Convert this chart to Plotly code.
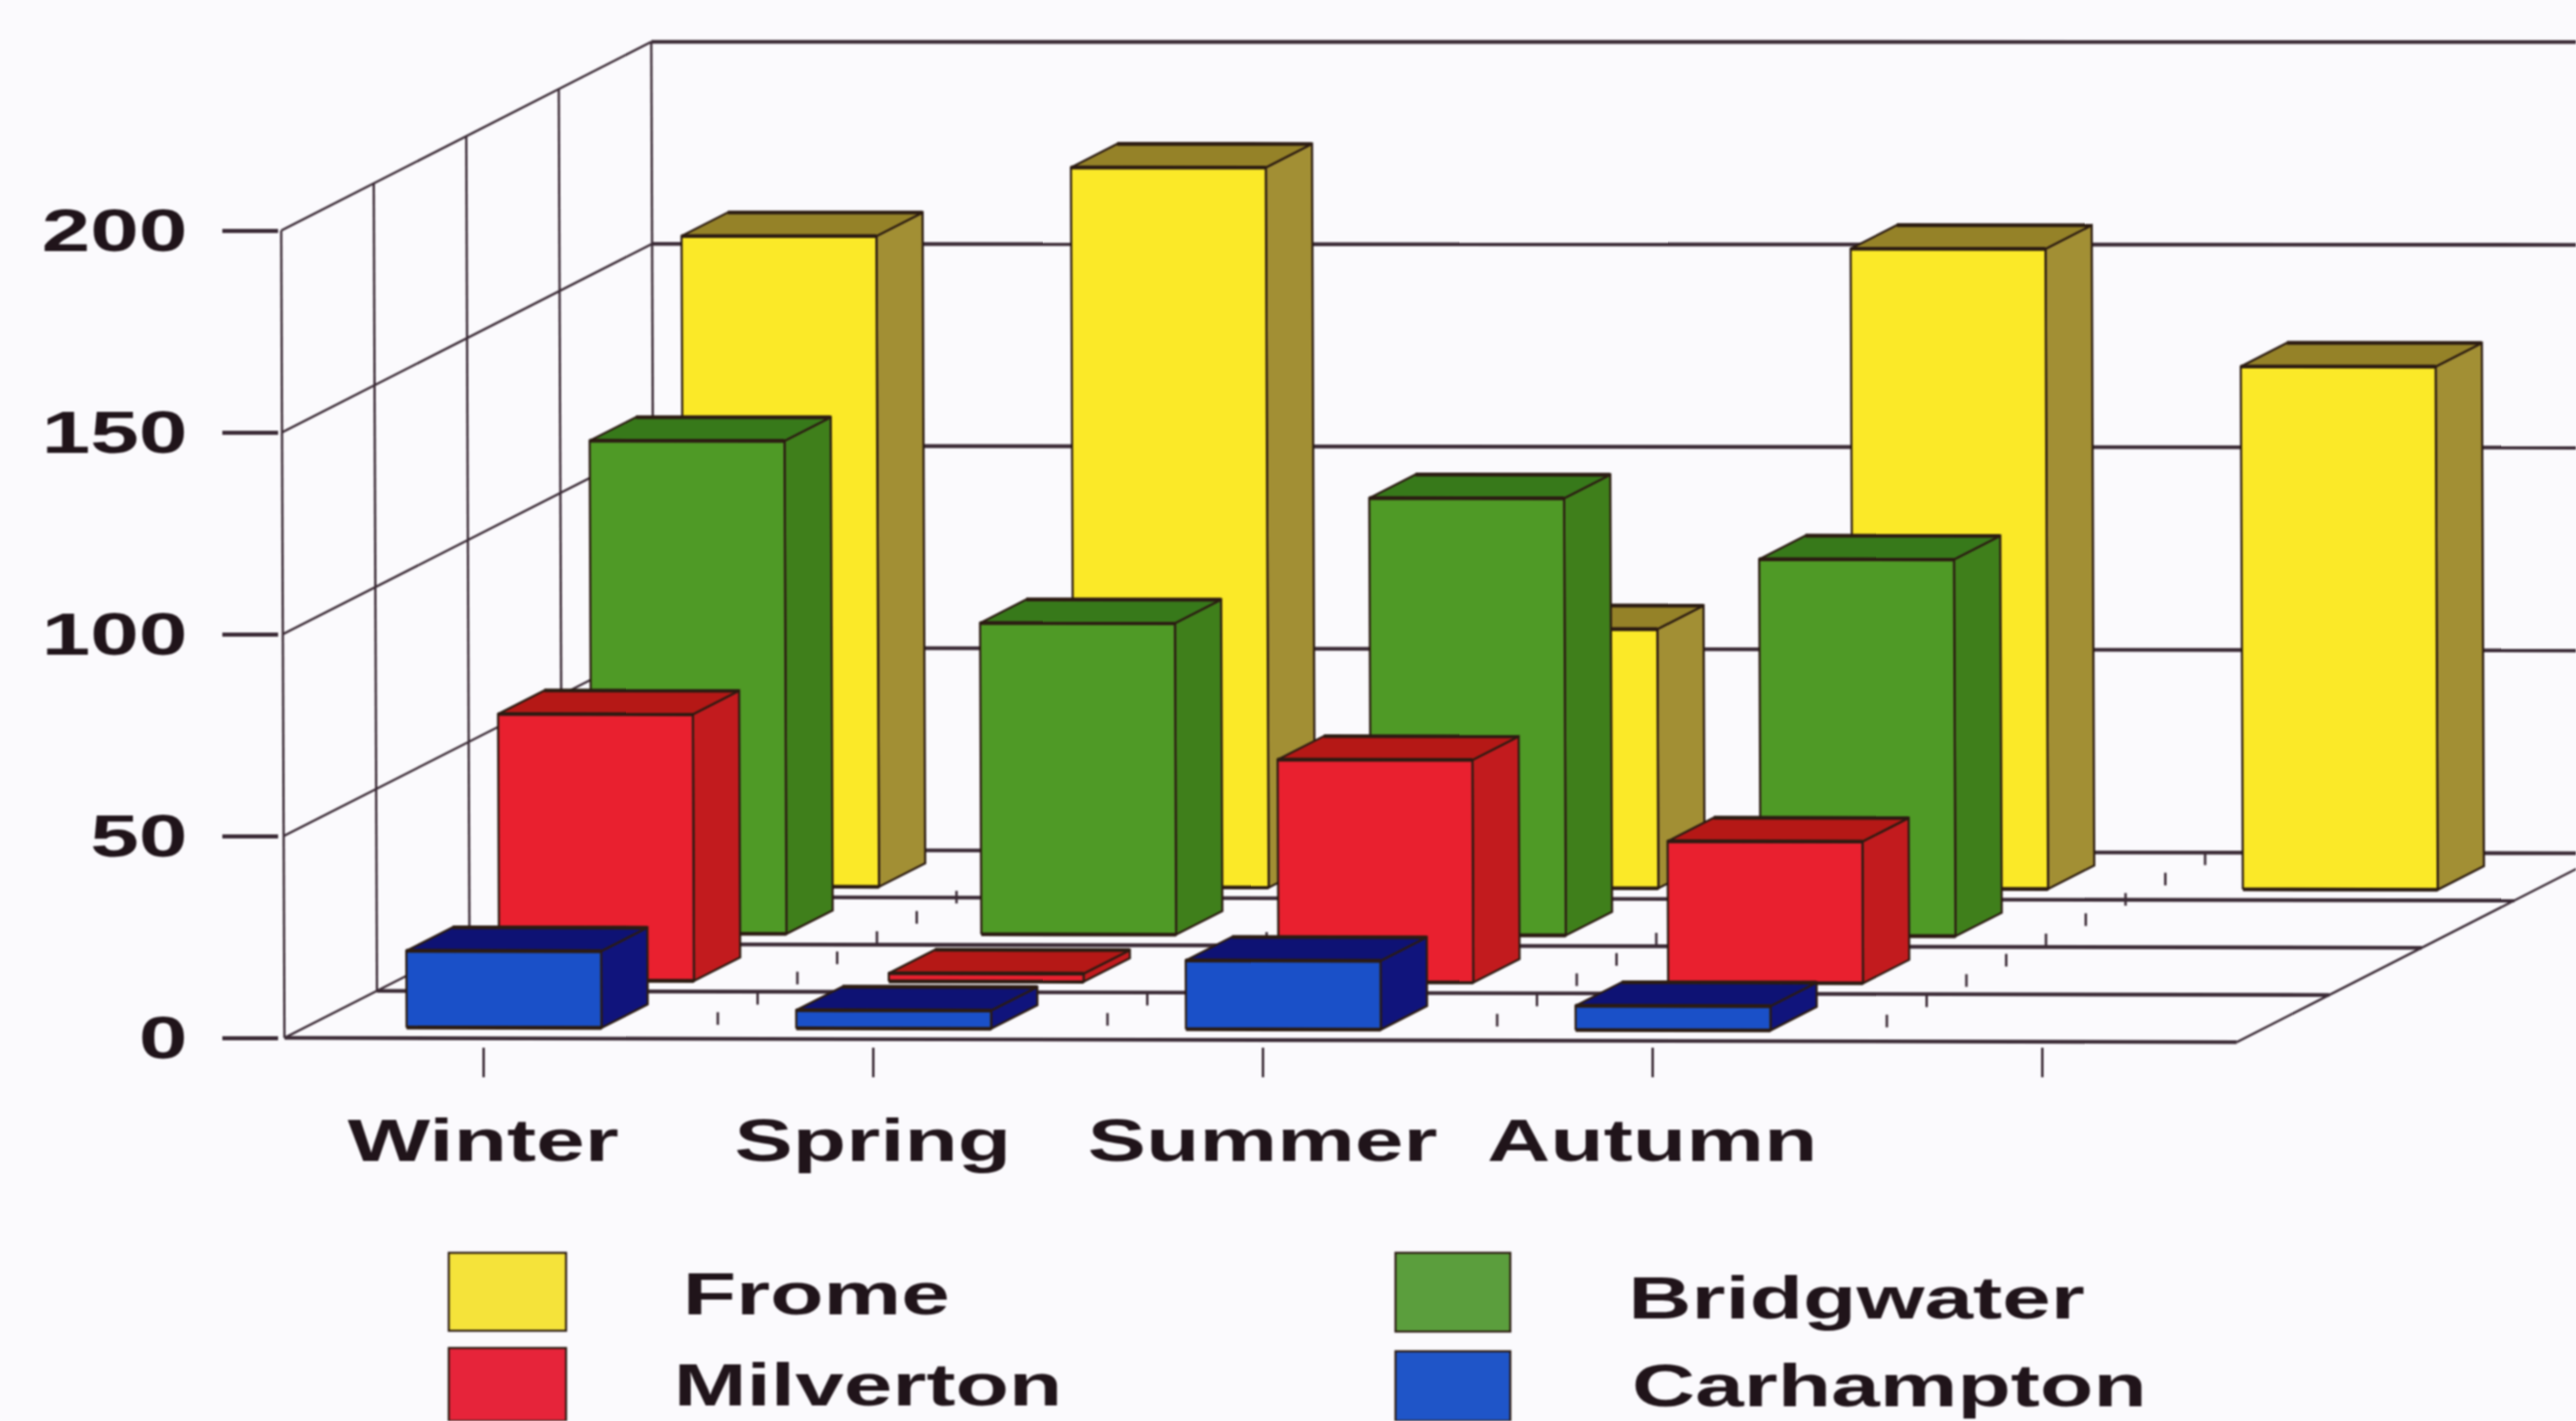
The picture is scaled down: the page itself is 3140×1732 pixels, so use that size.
import plotly.graph_objects as go

# ---------- data ----------
SEASONS = ["Winter", "Spring", "Summer", "Autumn", ""]
FROME = [161, 178, 64, 158, 129]
BRIDGWATER = [122, 77, 108, 93, None]
MILVERTON = [66, 2, 55, 35, None]
CARHAMPTON = [19, 4.5, 17, 6, None]
VALUE_TICKS = [0, 50, 100, 150, 200]

# ---------- oblique projection (category, depth row, value) -> axis units ----------
W, H = 3140, 1732
PX_CAT, PX_VAL = 475.0, 4.92
X_CAT0, Y_VAL0 = 589.0, 1265.0
DX_ROW, DY_ROW = 113.0, 57.5
BAR_HALF, BAR_FRONT, BAR_BACK = 0.25, 0.225, 0.725
PLOT_LEFT, PLOT_BOTTOM = 340.0, 1276.0
TEXT = "#20141a"
LINE = "#3a2a35"
EDGE = "#2b1b12"
BG = "#fbfafd"
FONT = dict(family="Liberation Sans", size=72, color=TEXT, weight=700)


def proj(c, d, v):
    px = X_CAT0 + c * PX_CAT + d * DX_ROW
    py = Y_VAL0 - d * DY_ROW - v * PX_VAL
    # the scan is very slightly skewed
    py2 = py + 0.0022 * (px - 345) * (py / 1267)
    px2 = px + 0.004 * (py - 1267)
    return (px2 - X_CAT0) / PX_CAT, (Y_VAL0 - py2) / PX_VAL


def path(points):
    xs, ys = [], []
    for c, d, v in points:
        x, y = proj(c, d, v)
        xs.append(x)
        ys.append(y)
    return xs, ys


fig = go.Figure()


def line(points, width=3.0, color=LINE):
    xs, ys = path(points)
    fig.add_trace(go.Scatter(x=xs, y=ys, mode="lines", line=dict(color=color, width=width),
                             hoverinfo="skip", showlegend=False, cliponaxis=False))


# walls and floor
C_MIN, C_MAX, D_MAX = -0.51, 4.5, 4
for v in VALUE_TICKS[1:]:
    line([(C_MIN, 0, v), (C_MIN, D_MAX, v)], 2.8)
    line([(C_MIN, D_MAX, v), (7.0, D_MAX, v)], 4.6)
for d in range(D_MAX + 1):
    line([(C_MIN, d, 0), (C_MIN, d, 200)], 2.8)
line([(C_MIN, 0, 0), (C_MIN, D_MAX, 0)], 2.8)
line([(C_MIN, D_MAX, 0), (7.0, D_MAX, 0)], 4.6)
for d in range(D_MAX):
    line([(C_MIN, d, 0), (C_MAX, d, 0)], 4.6)
line([(C_MAX, 0, 0), (C_MAX, D_MAX, 0)], 2.8)
# dotted depth lines on the floor
for c in [0.5, 1.5, 2.5, 3.5]:
    ds = [0.43 * k for k in range(1, 10)]
    xs, ys = path([(c, d, 0) for d in ds])
    fig.add_trace(go.Scatter(x=xs, y=ys, mode="markers", hoverinfo="skip", showlegend=False,
                             marker=dict(symbol="line-ns", size=11, line=dict(color=LINE, width=3))))


def faces(values, row, name, front, side, top):
    f_x, f_y, s_x, s_y, t_x, t_y, e_x, e_y = [], [], [], [], [], [], [], []
    d0, d1 = row + BAR_FRONT, row + BAR_BACK
    for i, v in enumerate(values):
        if v is None:
            continue
        l, r = i - BAR_HALF, i + BAR_HALF
        for xs, ys, pts in (
            (s_x, s_y, [(r, d0, 0), (r, d1, 0), (r, d1, v), (r, d0, v), (r, d0, 0)]),
            (t_x, t_y, [(l, d0, v), (r, d0, v), (r, d1, v), (l, d1, v), (l, d0, v)]),
            (f_x, f_y, [(l, d0, 0), (r, d0, 0), (r, d0, v), (l, d0, v), (l, d0, 0)]),
            (e_x, e_y, [(l, d0, v), (r, d0, v)]),
            (e_x, e_y, [(l, d1, v), (r, d1, v)]),
            (e_x, e_y, [(l, d0, 0), (r, d0, 0)]),
        ):
            px, py = path(pts)
            xs += px + [None]
            ys += py + [None]
    for xs, ys, col in ((s_x, s_y, side), (t_x, t_y, top), (f_x, f_y, front)):
        fig.add_trace(go.Scatter(x=xs, y=ys, mode="lines", fill="toself", fillcolor=col, name=name,
                                 line=dict(color=EDGE, width=2.6), showlegend=False, hoverinfo="name"))
    # horizontal edges print heavier in the original
    fig.add_trace(go.Scatter(x=e_x, y=e_y, mode="lines", line=dict(color=EDGE, width=4.6),
                             hoverinfo="skip", showlegend=False))


faces(FROME, 3, "Frome", "#fbe928", "#a28f34", "#958228")
faces(BRIDGWATER, 2, "Bridgwater", "#4f9a26", "#3f7f1b", "#37791a")
faces(MILVERTON, 1, "Milverton", "#e9202f", "#c21b1e", "#b51816")
faces(CARHAMPTON, 0, "Carhampton", "#1a50c8", "#10147c", "#0e1274")

# legend (swatches and names)
LEGEND = [
    ("Frome", "#f5e33a", 547, 690, 1527, 1622, 995, 1577),
    ("Bridgwater", "#5b9e3d", 1701, 1841, 1527, 1623, 2263, 1582),
    ("Milverton", "#e6243a", 547, 690, 1643, H, 1058, 1688),
    ("Carhampton", "#1f55c8", 1701, 1841, 1647, H, 2303, 1689),
]
shapes, annotations = [], []
for name, col, x0, x1, y0, y1, tx, ty in LEGEND:
    shapes.append(dict(type="rect", xref="paper", yref="paper", x0=x0 / W, x1=x1 / W,
                       y0=1 - y0 / H, y1=1 - y1 / H, fillcolor=col, line=dict(color=EDGE, width=2.5)))
    annotations.append(dict(text=name, xref="paper", yref="paper", x=tx / W, y=1 - ty / H,
                            xanchor="center", yanchor="middle", showarrow=False, font=FONT))

fig.update_layout(
    width=W, height=H, autosize=False, margin=dict(l=0, r=0, t=0, b=0, autoexpand=False),
    paper_bgcolor=BG, plot_bgcolor=BG, showlegend=False, shapes=shapes, annotations=annotations,
    xaxis=dict(domain=[PLOT_LEFT / W, 1], range=[(PLOT_LEFT - X_CAT0) / PX_CAT, (W - X_CAT0) / PX_CAT],
               tickmode="array", tickvals=list(range(len(SEASONS))), ticktext=SEASONS, automargin=False,
               ticks="outside", ticklen=36, tickwidth=2.8, tickcolor=LINE, showgrid=False, zeroline=False,
               showline=False, ticklabelstandoff=16, tickfont=FONT),
    yaxis=dict(domain=[1 - PLOT_BOTTOM / H, 1], range=[(Y_VAL0 - PLOT_BOTTOM) / PX_VAL, Y_VAL0 / PX_VAL],
               tickmode="array", tickvals=VALUE_TICKS, ticks="outside", ticklen=68, tickwidth=4.6, automargin=False,
               tickcolor=LINE, showgrid=False, zeroline=False, showline=False, ticklabelstandoff=28,
               tickfont=FONT),
)

# page without body margin; the original lettering is stretched horizontally and the scan is soft
STRETCH = """
var de=document.documentElement, b=document.body;
de.style.background='#fbfafd';
de.style.overflow='hidden';
b.style.margin='0'; b.style.overflow='hidden';
document.querySelectorAll('.xtick text,.ytick text,.annotation-text').forEach(function(t){
  var w=t.getComputedTextLength();
  if(w>0){t.setAttribute('textLength',w*1.48);t.setAttribute('lengthAdjust','spacingAndGlyphs');}
});
document.querySelectorAll('.main-svg').forEach(function(s){s.style.filter='blur(1.3px)';});
"""
fig.write_html("out.html", post_script=STRETCH, config=dict(displayModeBar=False))
